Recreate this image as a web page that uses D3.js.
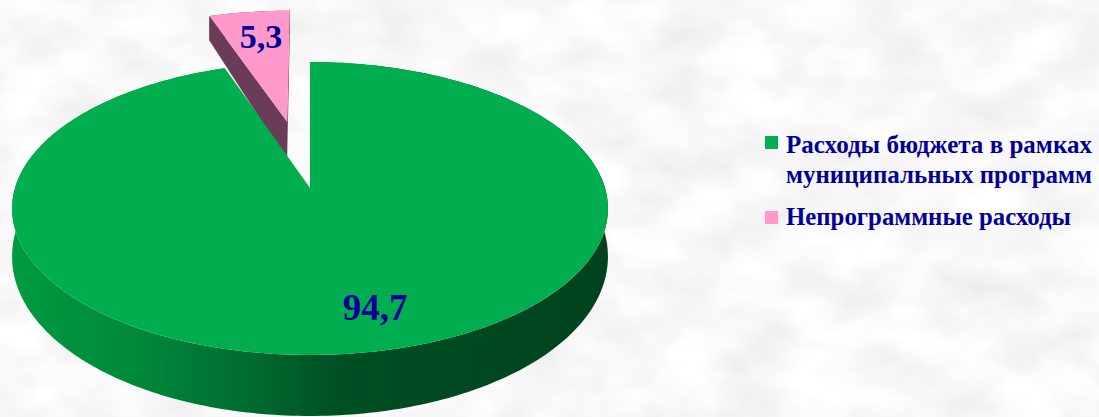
<!DOCTYPE html>
<html>
<head>
<meta charset="utf-8">
<script src="https://cdn.jsdelivr.net/npm/d3@7/dist/d3.min.js"></script>
<style>
  html, body { margin: 0; padding: 0; background: #eeeeee; }
  svg { display: block; }
</style>
</head>
<body>
<div id="chart"></div>
<script>
const categories = ['Расходы бюджета в рамках муниципальных программ', 'Непрограммные расходы'];
const legendLines = [['Расходы бюджета в рамках', 'муниципальных программ'], ['Непрограммные расходы']];
const values = [94.7, 5.3];
const valueLabels = ['94,7', '5,3'];
const explode = [0, 0.5];

const width = 1099;
const height = 417;

// pseudo 3d projection of the pie disk
const view = {
  cx: 310,
  cy: 188,
  rx: 295,
  ry: 143.6,
  persp: 0.14
};

const topColors = d3.scaleOrdinal().domain(categories).range(['#00ae4f', '#ff99cc']);
const wallColors = d3.scaleOrdinal().domain(categories).range(['#007a35', '#6b3c57']);

const scaleX = d3.scaleLinear().domain([-1, 1]).range([view.cx - view.rx, view.cx + view.rx]);
const scaleY = d3.scaleLinear().domain([-1, 1]).range([view.cy - view.ry, view.cy + view.ry]);
const depth = z => 46 + 15 * z;

function project(x, z, bottom) {
  const w = 1 / (1 - view.persp * z);
  return [scaleX(x * w), scaleY(z * w) + (bottom ? depth(z) : 0)];
}

const svg = d3.select('#chart')
  .append('svg')
  .attr('width', width)
  .attr('height', height);

const defs = svg.append('defs');

const noise = defs.append('filter')
  .attr('id', 'paper')
  .attr('x', 0).attr('y', 0).attr('width', '100%').attr('height', '100%');
noise.append('feTurbulence')
  .attr('type', 'fractalNoise')
  .attr('baseFrequency', '0.014 0.022')
  .attr('numOctaves', 3)
  .attr('seed', 7);
noise.append('feColorMatrix')
  .attr('type', 'matrix')
  .attr('values', '0.26 0 0 0 0.81  0.26 0 0 0 0.81  0.26 0 0 0 0.81  0 0 0 0 1');

svg.append('rect')
  .attr('width', width)
  .attr('height', height)
  .attr('filter', 'url(#paper)');

const sideGrad = defs.append('linearGradient')
  .attr('id', 'side-green')
  .attr('gradientUnits', 'userSpaceOnUse')
  .attr('x1', view.cx - view.rx).attr('x2', view.cx + view.rx)
  .attr('y1', 0).attr('y2', 0);
[[0, '#009a40'], [0.23, '#00853a'], [0.4, '#006a2e'], [0.55, '#004f23'], [1, '#00421e']]
  .forEach(([o, c]) => sideGrad.append('stop').attr('offset', o).attr('stop-color', c));

const pie = d3.pie().sort(null).startAngle(0).endAngle(2 * Math.PI);
const slices = pie(values).map((d, i) => {
  const mid = (d.startAngle + d.endAngle) / 2;
  return {
    ...d,
    name: categories[i],
    ox: explode[i] * Math.sin(mid),
    oz: -explode[i] * Math.cos(mid)
  };
});

const line = d3.line();

function arcPoints(s, bottom) {
  const step = Math.PI / 180;
  const angles = d3.range(s.startAngle, s.endAngle, step).concat([s.endAngle]);
  return angles.map(a => project(s.ox + Math.sin(a), s.oz - Math.cos(a), bottom));
}

function wallPoints(s, a) {
  const ex = s.ox + Math.sin(a);
  const ez = s.oz - Math.cos(a);
  return [project(s.ox, s.oz, false), project(ex, ez, false), project(ex, ez, true), project(s.ox, s.oz, true)];
}

const pieG = svg.append('g');

// far slice first so the big one paints over it
slices.slice().reverse().forEach(s => {
  const g = pieG.append('g');
  const top = arcPoints(s, false);
  const bottom = arcPoints(s, true);

  g.append('path')
    .attr('d', line(top.concat(bottom.reverse())) + 'Z')
    .attr('fill', s.index === 0 ? 'url(#side-green)' : wallColors(s.name));

  if (explode[s.index] > 0) {
    g.append('path')
      .attr('d', line(wallPoints(s, s.endAngle)) + 'Z')
      .attr('fill', wallColors(s.name));
    g.append('path')
      .attr('d', line(wallPoints(s, s.startAngle)) + 'Z')
      .attr('fill', wallColors(s.name));
  }

  g.append('path')
    .attr('d', line([project(s.ox, s.oz, false)].concat(top)) + 'Z')
    .attr('fill', topColors(s.name));
});

const labelPos = [[375, 320, 37], [261, 48, 34]];
svg.append('g')
  .selectAll('text')
  .data(slices)
  .join('text')
  .attr('x', d => labelPos[d.index][0])
  .attr('y', d => labelPos[d.index][1])
  .attr('text-anchor', 'middle')
  .attr('font-family', '"Liberation Serif", "Times New Roman", serif')
  .attr('font-weight', 'bold')
  .attr('font-size', d => labelPos[d.index][2])
  .attr('fill', '#000099')
  .text(d => valueLabels[d.index]);

const legend = svg.append('g').attr('transform', 'translate(765, 0)');
const legendTop = [136, 211];
const legendBase = [153, 225];
const legendWidths = [[306, 306], [285]];

categories.forEach((c, i) => {
  legend.append('rect')
    .attr('x', 0)
    .attr('y', legendTop[i])
    .attr('width', 13)
    .attr('height', 13)
    .attr('fill', topColors(c));

  legendLines[i].forEach((t, j) => {
    legend.append('text')
      .attr('x', 21)
      .attr('y', legendBase[i] + j * 30)
      .attr('font-family', '"Liberation Serif", "Times New Roman", serif')
      .attr('font-weight', 'bold')
      .attr('font-size', 24.5)
      .attr('textLength', legendWidths[i][j])
      .attr('lengthAdjust', 'spacingAndGlyphs')
      .attr('fill', '#000099')
      .text(t);
  });
});
</script>
</body>
</html>
